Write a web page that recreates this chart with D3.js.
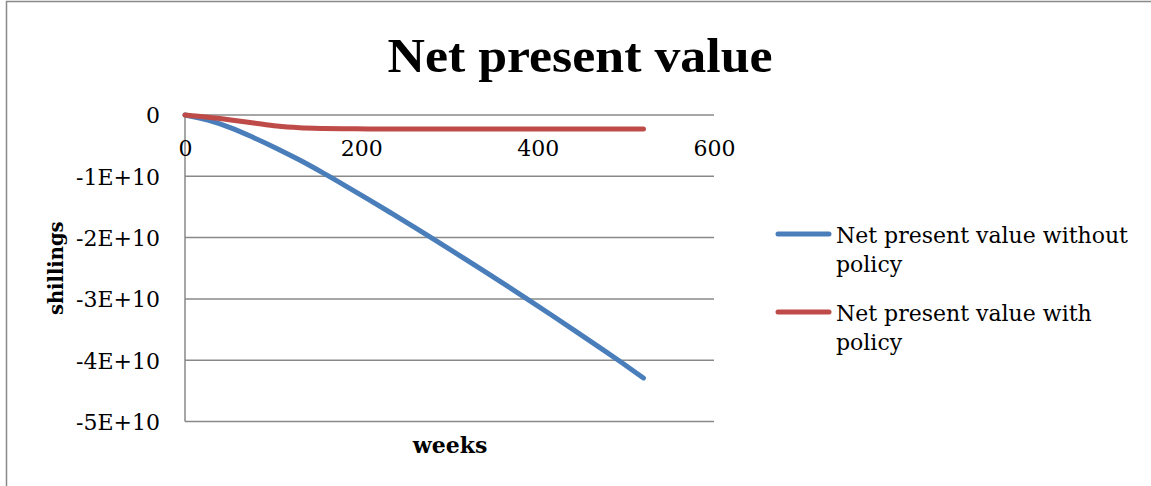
<!DOCTYPE html>
<html>
<head>
<meta charset="utf-8">
<script src="https://cdn.jsdelivr.net/npm/d3@7"></script>
<style>
  html, body { margin: 0; padding: 0; background: #fff; }
  svg { display: block; }
  text { font-family: "DejaVu Serif", "Liberation Serif", serif; fill: #000; }
</style>
</head>
<body>
<svg id="chart" width="1151" height="486"></svg>
<script>
// Weeks since start
const weeks = [0, 26, 52, 78, 104, 130, 156, 182, 208, 234, 260, 286, 312, 338, 364, 390, 416, 442, 468, 494, 520];
// Net present value (shillings) without policy
const npvWithout = [0, -0.85e9, -2.1e9, -3.7e9, -5.45e9, -7.35e9, -9.4e9, -1.155e10, -1.375e10, -1.601e10, -1.83e10,
  -2.062e10, -2.297e10, -2.535e10, -2.776e10, -3.02e10, -3.267e10, -3.517e10, -3.77e10, -4.026e10, -4.29e10];
// Net present value (shillings) with policy
const npvWith = [0, -0.35e9, -0.8e9, -1.3e9, -1.8e9, -2.08e9, -2.2e9, -2.25e9, -2.27e9, -2.28e9, -2.28e9,
  -2.28e9, -2.28e9, -2.28e9, -2.28e9, -2.28e9, -2.28e9, -2.28e9, -2.28e9, -2.29e9, -2.29e9];

const seriesNames = ["Net present value without policy", "Net present value with policy"];
const seriesColors = ["#4a7ebb", "#be4b48"];
const xTicks = [0, 200, 400, 600];
const yTicks = [0, -1e10, -2e10, -3e10, -4e10, -5e10];

const svg = d3.select("#chart");
const gridColor = "#898989";

// Outer chart frame (top and left edges)
svg.append("path")
  .attr("d", "M6.5,486 V1.5 H1151")
  .attr("fill", "none")
  .attr("stroke", gridColor)
  .attr("stroke-width", 1.5);

const plot = { left: 185, right: 714, top: 115, bottom: 421.5 };

const x = d3.scaleLinear().domain([0, 600]).range([plot.left, plot.right]);
const y = d3.scaleLinear().domain([-5e10, 0]).range([plot.bottom, plot.top]);

// Horizontal gridlines
svg.append("g")
  .selectAll("line")
  .data(yTicks)
  .join("line")
  .attr("x1", plot.left).attr("x2", plot.right)
  .attr("y1", d => y(d)).attr("y2", d => y(d))
  .attr("stroke", gridColor)
  .attr("stroke-width", 1.5);

// Vertical axis line
svg.append("line")
  .attr("x1", x(0)).attr("x2", x(0))
  .attr("y1", plot.top).attr("y2", plot.bottom)
  .attr("stroke", gridColor)
  .attr("stroke-width", 1.5);

const fmtY = d => d === 0 ? "0" : (d / 1e10) + "E+10";

// Y axis labels
const yAxis = svg.append("g")
  .attr("transform", `translate(${plot.left},0)`)
  .call(d3.axisLeft(y).tickValues(yTicks).tickFormat(fmtY).tickSize(0).tickPadding(25));
yAxis.select(".domain").remove();
yAxis.selectAll("text")
  .style("font-family", "DejaVu Serif")
  .style("font-size", "22px")
  .attr("dy", "0.36em");

// X axis labels (axis crosses at zero, labels sit just under it)
const xAxis = svg.append("g")
  .attr("transform", `translate(0,${plot.top})`)
  .call(d3.axisBottom(x).tickValues(xTicks).tickFormat(d3.format("d")).tickSize(0));
xAxis.select(".domain").remove();
xAxis.selectAll("text")
  .style("font-family", "DejaVu Serif")
  .style("font-size", "22px")
  .attr("y", 41)
  .attr("dy", 0);

// Series lines
const data = [npvWithout, npvWith];
const line = d3.line()
  .x((d, i) => x(weeks[i]))
  .y(d => y(d))
  .curve(d3.curveMonotoneX);

svg.append("g")
  .selectAll("path")
  .data(data)
  .join("path")
  .attr("d", d => line(d))
  .attr("fill", "none")
  .attr("stroke", (d, i) => seriesColors[i])
  .attr("stroke-width", 5)
  .attr("stroke-linecap", "round")
  .attr("stroke-linejoin", "round");

// Title
svg.append("text")
  .attr("x", 580)
  .attr("y", 72)
  .attr("text-anchor", "middle")
  .style("font-family", "Liberation Serif")
  .style("font-weight", "bold")
  .style("font-size", "49px")
  .attr("textLength", 385)
  .attr("lengthAdjust", "spacingAndGlyphs")
  .text("Net present value");

// Axis titles
svg.append("text")
  .attr("x", 450)
  .attr("y", 453)
  .attr("text-anchor", "middle")
  .style("font-weight", "bold")
  .style("font-size", "22px")
  .text("weeks");

svg.append("text")
  .attr("transform", `translate(63,${(plot.top + plot.bottom) / 2}) rotate(-90)`)
  .attr("text-anchor", "middle")
  .style("font-weight", "bold")
  .style("font-size", "19.5px")
  .text("shillings");

// Legend
const legendRows = [
  { lines: ["Net present value without", "policy"], y: 234 },
  { lines: ["Net present value with", "policy"], y: 312 }
];
const legend = svg.append("g");
legendRows.forEach((row, i) => {
  legend.append("line")
    .attr("x1", 778).attr("x2", 829)
    .attr("y1", row.y).attr("y2", row.y)
    .attr("stroke", seriesColors[i])
    .attr("stroke-width", 5)
    .attr("stroke-linecap", "round");
  const t = legend.append("text")
    .attr("x", 836)
    .attr("y", row.y + 9)
    .style("font-size", "22px");
  row.lines.forEach((s, j) => {
    t.append("tspan")
      .attr("x", 836)
      .attr("dy", j === 0 ? 0 : 29)
      .text(s);
  });
});
</script>
</body>
</html>
